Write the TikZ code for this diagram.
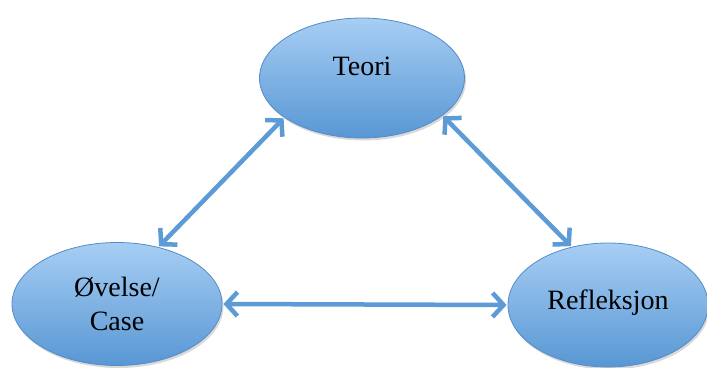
\documentclass[tikz,border=0pt]{standalone}
\usepackage{fontspec}
\setmainfont{Liberation Serif}
\usetikzlibrary{shapes.geometric,arrows.meta,shadows}
\definecolor{lysbla}{RGB}{167,206,244}
\definecolor{mørkbla}{RGB}{88,151,212}
\definecolor{kant}{RGB}{84,140,200}
\definecolor{pil}{RGB}{92,155,213}
\tikzset{
  boble/.style={ellipse,draw=kant,line width=0.8pt,top color=lysbla,bottom color=mørkbla,
    inner sep=0pt,font=\fontsize{28}{34}\selectfont,align=center,
    drop shadow={opacity=0.3,shadow xshift=1.5pt,shadow yshift=-2.5pt}},
  dobbelpil/.style={draw=pil,line width=4.5pt,{Straight Barb[length=11pt,width=24pt]}-{Straight Barb[length=11pt,width=24pt]},shorten <=1pt,shorten >=1pt}
}
\begin{document}
\begin{tikzpicture}[x=1pt,y=-1pt]
    \useasboundingbox (0,0) rectangle (707,367);
    \node[boble,minimum width=205pt,minimum height=120pt,text depth=24pt] at (362,78) (teori) {Teori};
    \node[boble,minimum width=210pt,minimum height=123pt] at (117,304) (ovelse) {Øvelse/\\Case};
    \node[boble,minimum width=200pt,minimum height=124pt,text depth=10pt] at (608,305) (refleksjon) {Refleksjon};
    \draw[dobbelpil] (teori.207) -- (ovelse.54);
    \draw[dobbelpil] (teori.335) -- (refleksjon.122);
    \draw[dobbelpil] (ovelse.east) -- (refleksjon.west);
\end{tikzpicture}
\end{document}
